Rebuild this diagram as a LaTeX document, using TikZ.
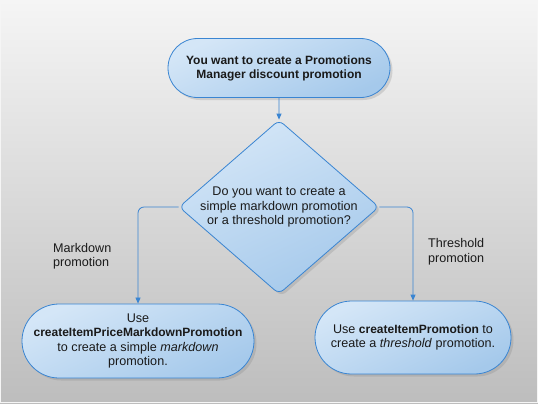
\documentclass[tikz,border=0pt]{standalone}
\usepackage{fontspec}
\setmainfont{Liberation Sans}
\usetikzlibrary{positioning}
\usetikzlibrary{shapes.geometric}
\usetikzlibrary{shapes.misc}
\usetikzlibrary{arrows.meta}
\usetikzlibrary{shadows}
\definecolor{bgtop}{HTML}{F5F5F5}
\definecolor{bgbot}{HTML}{BDBDBD}
\definecolor{fillhi}{HTML}{D4E6F7}
\definecolor{filllo}{HTML}{A5C9EB}
\definecolor{lineblue}{HTML}{3A85D2}
\definecolor{inkdark}{HTML}{1A1A1A}

\begin{document}
\begin{tikzpicture}[x=1bp,y=-1bp]
		\tikzset{box/.style = {draw=lineblue,line width=0.8bp,top color=fillhi,bottom color=filllo,shading angle=25,
				drop shadow={opacity=0.25,shadow xshift=2.5bp,shadow yshift=-2.5bp}}}
		\tikzset{term/.style = {box,shape=rounded rectangle,inner sep=0pt,align=center,text=inkdark,
				font=\fontsize{12.6bp}{14.2bp}\selectfont}}
		\tikzset{ask/.style = {box,shape=diamond,inner sep=0pt,rounded corners=6bp}}
		\tikzset{txt/.style = {align=center,text=inkdark,font=\fontsize{12.6bp}{14.2bp}\selectfont}}
		\tikzset{lbl/.style = {align=left,anchor=north west,inner sep=0pt,text=inkdark,font=\fontsize{12.6bp}{14.6bp}\selectfont}}
		\tikzset{edge/.style = {draw=lineblue,line width=0.8bp,-{Triangle[length=6bp,width=5bp]}}}
		% background
		\fill[top color=bgtop,bottom color=bgbot] (0,0) rectangle (538,403);
		\draw[white!92!gray,line width=1.2bp] (0.6,0.6) rectangle (537.4,402.4);
		% vertices
		\node[term,minimum width=222bp,minimum height=59bp,font=\bfseries\fontsize{12bp}{14bp}\selectfont] (want) at (279,68)
			{You want to create a Promotions\\Manager discount promotion};
		\node[ask,minimum width=200bp,minimum height=174bp] (q) at (279,207) {};
		\node[txt] (qt) at (q.center) {Do you want to create a\\simple markdown promotion\\or a threshold promotion?};
		\node[term,minimum width=223bp,minimum height=74bp] (mark) at (138,341)
			{Use\\\textbf{\fontsize{12bp}{14.2bp}\selectfont createItemPriceMarkdownPromotion}\\to create a simple \textit{markdown}\\promotion.};
		\node[term,minimum width=196bp,minimum height=73bp] (thr) at (413,337.5)
			{Use \textbf{\fontsize{12bp}{14.2bp}\selectfont createItemPromotion} to\\create a \textit{threshold} promotion.};
		\node[lbl] (ml) at (53,243) {Markdown\\promotion};
		\node[lbl] (tl) at (428,238.5) {Threshold\\promotion};
		%edges
		\draw[edge] (want) -- (q);
		\draw[edge,rounded corners=6bp] (q.west) -| (mark);
		\draw[edge,rounded corners=6bp] (q.east) -| (thr);
\end{tikzpicture}
\end{document}
